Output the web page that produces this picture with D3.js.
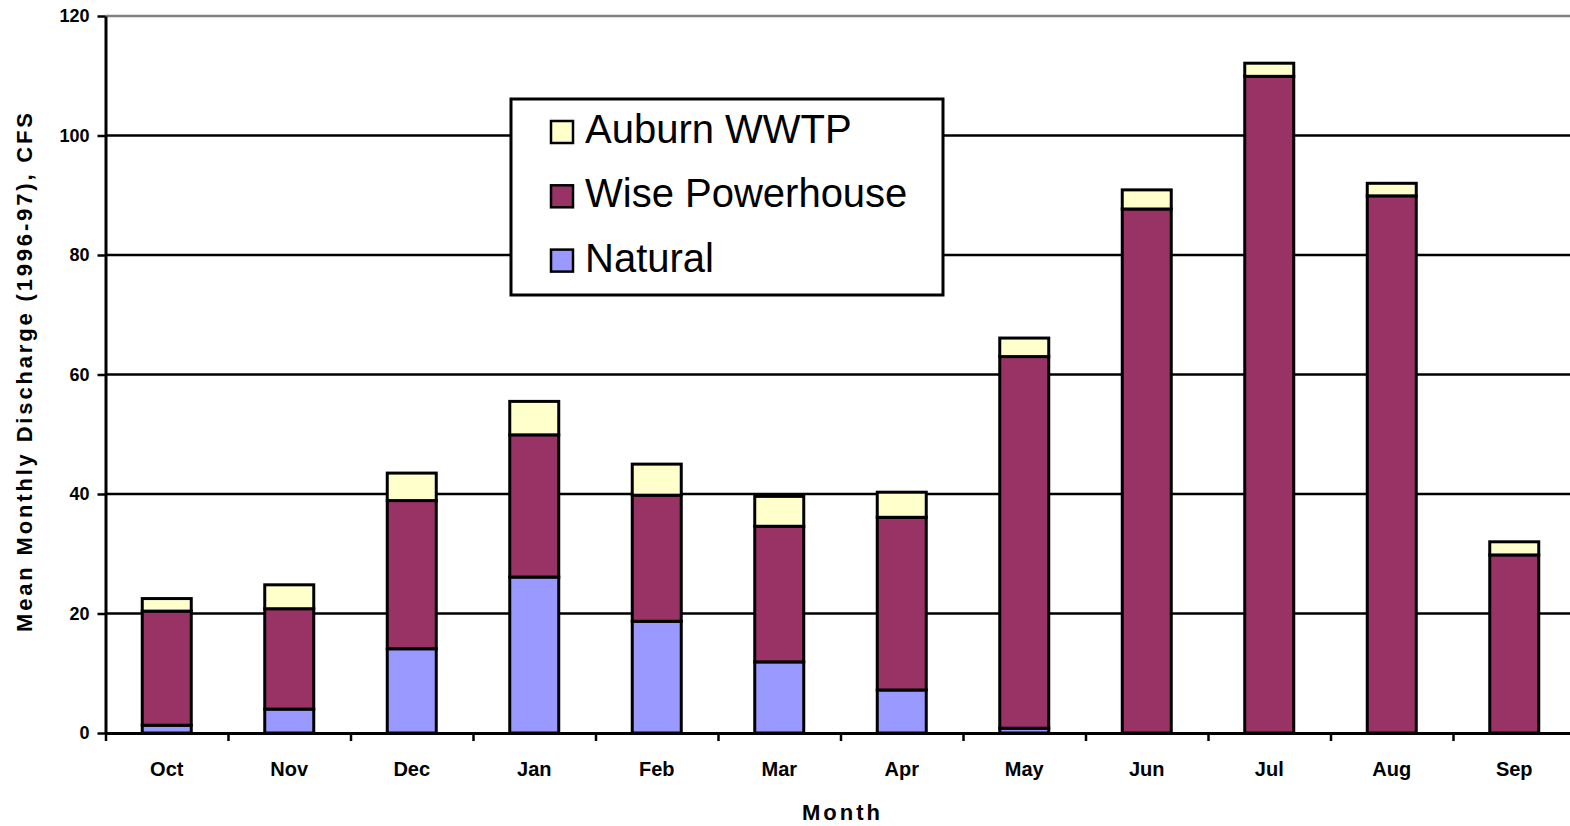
<!DOCTYPE html>
<html><head><meta charset="utf-8">
<script src="https://cdn.jsdelivr.net/npm/d3@7"></script>
<style>body{margin:0;background:#fff;} svg{display:block}</style>
</head><body><svg id="c" width="1570" height="826"></svg>
<script>
const months = ["Oct","Nov","Dec","Jan","Feb","Mar","Apr","May","Jun","Jul","Aug","Sep"];
const natural = [1.3, 4.0, 14.1, 26.1, 18.7, 11.9, 7.2, 0.8, 0, 0, 0, 0];
const wise    = [19.1, 16.8, 24.8, 23.8, 21.1, 22.7, 28.9, 62.2, 87.7, 109.9, 89.9, 29.8];
const auburn  = [2.1, 4.0, 4.6, 5.6, 5.2, 5.0, 4.2, 3.1, 3.2, 2.2, 2.1, 2.2];
const seriesNames = ["Natural", "Wise Powerhouse", "Auburn WWTP"];
const seriesColors = ["#9999FF", "#993366", "#FFFFCC"];
const yTicks = [0, 20, 40, 60, 80, 100, 120];
const yTitle = "Mean Monthly Discharge (1996-97), CFS";
const xTitle = "Month";

const svg = d3.select("#c");
const mLeft = 105.5, mRight = 1575.5, mTop = 16, mBottom = 733;

const rows = months.map((m, i) => ({month: m, [seriesNames[0]]: natural[i], [seriesNames[1]]: wise[i], [seriesNames[2]]: auburn[i]}));
const stackData = d3.stack().keys(seriesNames)(rows);

const x = d3.scaleBand().domain(months).range([mLeft, mRight]).paddingInner(0.6).paddingOuter(0.3);
const xEdge = d3.scaleLinear().domain([0, months.length]).range([mLeft, mRight]);
const y = d3.scaleLinear().domain([0, 120]).range([mBottom, mTop]);
const color = d3.scaleOrdinal().domain(seriesNames).range(seriesColors);

// gridlines
svg.append("g").selectAll("line").data(yTicks.filter(t => t > 0)).join("line")
  .attr("x1", mLeft).attr("x2", 1570)
  .attr("y1", d => y(d)).attr("y2", d => y(d))
  .attr("stroke", d => d === 120 ? "#808080" : "#000")
  .attr("stroke-width", 2.4);

// bars
svg.append("g").selectAll("g").data(stackData).join("g")
  .attr("fill", d => color(d.key))
  .selectAll("rect").data(d => d.filter(s => s[1] - s[0] > 0)).join("rect")
  .attr("x", d => x(d.data.month))
  .attr("width", x.bandwidth())
  .attr("y", d => y(d[1]))
  .attr("height", d => y(d[0]) - y(d[1]))
  .attr("stroke", "#000").attr("stroke-width", 3);

// y axis
const yAxis = svg.append("g").attr("transform", `translate(${mLeft},0)`)
  .call(d3.axisLeft(y).tickValues(yTicks).tickSize(8).tickSizeOuter(0).tickPadding(8));
yAxis.select(".domain").attr("stroke", "#000").attr("stroke-width", 3);
yAxis.selectAll(".tick line").attr("stroke", "#000").attr("stroke-width", 2.5);
yAxis.selectAll(".tick text").attr("font-family", "Liberation Sans, Arial, sans-serif")
  .attr("font-size", 18).attr("font-weight", "bold").attr("fill", "#000");

// x axis line + boundary ticks
const xTickAxis = svg.append("g").attr("transform", `translate(0,${mBottom})`)
  .call(d3.axisBottom(xEdge).tickValues(d3.range(0, months.length + 1)).tickFormat("").tickSize(8).tickSizeOuter(0));
xTickAxis.select(".domain").attr("stroke", "#000").attr("stroke-width", 3);
xTickAxis.selectAll(".tick line").attr("stroke", "#000").attr("stroke-width", 2.5);

// x labels
const xAxis = svg.append("g").attr("transform", `translate(0,${mBottom})`)
  .call(d3.axisBottom(x).tickSize(0).tickPadding(29));
xAxis.select(".domain").remove();
xAxis.selectAll(".tick text").attr("font-family", "Liberation Sans, Arial, sans-serif")
  .attr("font-size", 20).attr("font-weight", "bold").attr("fill", "#000");

// axis titles
svg.append("text").text(xTitle)
  .attr("x", 841).attr("y", 820).attr("text-anchor", "middle")
  .attr("font-family", "Liberation Sans, Arial, sans-serif").attr("font-size", 22).attr("font-weight", "bold")
  .attr("textLength", 78).attr("lengthAdjust", "spacing");
svg.append("text").text(yTitle)
  .attr("transform", "translate(32,372.5) rotate(-90)").attr("text-anchor", "middle")
  .attr("font-family", "Liberation Sans, Arial, sans-serif").attr("font-size", 22).attr("font-weight", "bold")
  .attr("textLength", 519).attr("lengthAdjust", "spacing");

// legend
const lg = svg.append("g");
lg.append("rect").attr("x", 511).attr("y", 99).attr("width", 432).attr("height", 196)
  .attr("fill", "#fff").attr("stroke", "#000").attr("stroke-width", 3);
const legendItems = seriesNames.slice().reverse();
const li = lg.selectAll("g.item").data(legendItems).join("g").attr("class", "item")
  .attr("transform", (d, i) => `translate(0,${143 + i * 64.3})`);
li.append("rect").attr("x", 551).attr("y", -22).attr("width", 22).attr("height", 22)
  .attr("fill", d => color(d)).attr("stroke", "#000").attr("stroke-width", 2.5);
li.append("text").text(d => d).attr("x", 585).attr("y", 0)
  .attr("font-family", "Liberation Sans, Arial, sans-serif").attr("font-size", 40).attr("fill", "#000");
</script></body></html>
